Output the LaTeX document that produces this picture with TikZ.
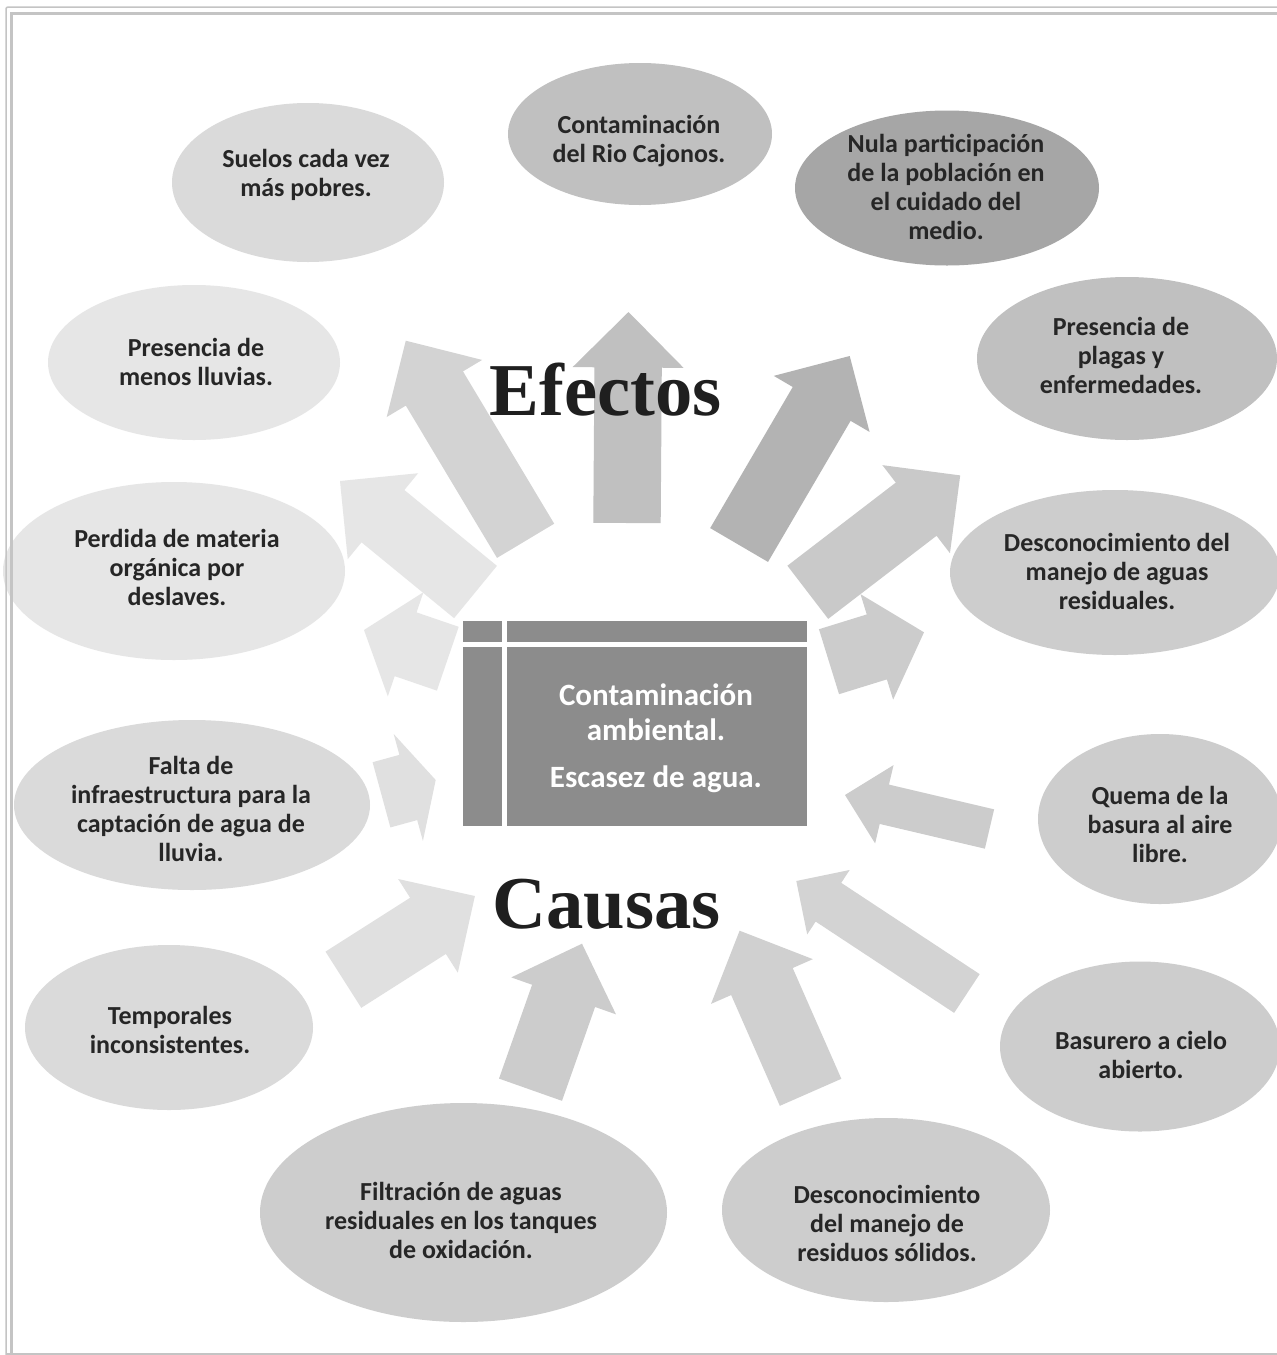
\documentclass[tikz,border=0pt]{standalone}
\usepackage{fontspec}
\setmainfont{Carlito}
\newfontfamily\titlefont{Liberation Serif}
\usetikzlibrary{calc,shapes.geometric}
\definecolor{txt}{HTML}{262626}
\definecolor{ttl}{HTML}{1F1F1F}
\definecolor{boxc}{HTML}{8C8C8C}
\definecolor{brd}{HTML}{C4C4C4}
\definecolor{gA}{HTML}{E6E6E6}
\definecolor{gB}{HTML}{DADADA}
\definecolor{gC}{HTML}{CDCDCD}
\definecolor{gD}{HTML}{C0C0C0}
\definecolor{gE}{HTML}{A6A6A6}
\definecolor{aD3}{HTML}{D3D3D3}
\definecolor{aB3}{HTML}{B3B3B3}
\definecolor{aC9}{HTML}{C9C9C9}
\definecolor{aCC}{HTML}{CCCCCC}
\definecolor{aE0}{HTML}{E0E0E0}
\definecolor{aD0}{HTML}{D0D0D0}
\newcommand\blkarrow[6]{%
  \coordinate (T) at (#2);
  \coordinate (P) at (#3);
  \coordinate (N) at ($(P)!#6pt!(T)$);
  \fill[#1] ($(T)!#4pt!90:(P)$) -- ($(N)!#4pt!90:(P)$) -- ($(N)!#5pt!90:(P)$) -- (P)
    -- ($(N)!#5pt!-90:(P)$) -- ($(N)!#4pt!-90:(P)$) -- ($(T)!#4pt!-90:(P)$) -- cycle;
}
\begin{document}
\begin{tikzpicture}[x=1pt,y=-1pt,
  ell/.style={ellipse, inner sep=0pt},
  lbl/.style={align=center, font=\fontsize{26}{29}\selectfont\bfseries, text=txt},
  cbox/.style={align=center, font=\fontsize{31}{35}\selectfont\bfseries, text=white},
  title/.style={font=\titlefont\bfseries\fontsize{74.6}{80}\selectfont, text=ttl, anchor=base}]
\useasboundingbox (0,0) rectangle (1277,1355);
\clip (0,0) rectangle (1277,1355);
\fill[white] (0,0) rectangle (1277,1355);

% ellipses
\node[ell, fill=gB, minimum width=272pt, minimum height=159pt] (suelos) at (308,182.5) {};
\node[ell, fill=gD, minimum width=264pt, minimum height=142pt] (rio) at (640,134) {};
\node[ell, fill=gE, minimum width=304pt, minimum height=155pt] (nula) at (947,188) {};
\node[ell, fill=gD, minimum width=300pt, minimum height=163pt] (plagas) at (1127,358.5) {};
\node[ell, fill=gC, minimum width=330pt, minimum height=165pt] (aguas) at (1115,572.5) {};
\node[ell, fill=gC, minimum width=244pt, minimum height=170pt] (quema) at (1160,819) {};
\node[ell, fill=gC, minimum width=280pt, minimum height=170pt] (basurero) at (1140,1046.5) {};
\node[ell, fill=gC, minimum width=328pt, minimum height=184pt] (residuos) at (886,1210) {};
\node[ell, fill=gC, minimum width=407pt, minimum height=219pt] (filtracion) at (463.5,1212.5) {};
\node[ell, fill=gB, minimum width=288pt, minimum height=165pt] (temporales) at (169,1027.5) {};
\node[ell, fill=gB, minimum width=356pt, minimum height=170pt] (falta) at (192,805) {};
\node[ell, fill=gA, minimum width=342pt, minimum height=178pt] (perdida) at (174,571) {};
\node[ell, fill=gA, minimum width=292pt, minimum height=155pt] (lluvias) at (194,362.5) {};

% effect arrows
\blkarrow{gD}{627,523}{628.5,312}{33.7}{55.5}{55.5}
\blkarrow{aD3}{525.6,540.8}{405.8,340.7}{33.3}{55.6}{55.7}
\blkarrow{aB3}{739.1,545}{849.7,356}{33.5}{55.5}{55.5}
\blkarrow{gA}{475.5,592}{340,481}{33.8}{55.5}{55.5}
\blkarrow{aC9}{807.8,592.3}{960.2,475.4}{33.5}{55.5}{55.5}
\blkarrow{gA}{447.8,658.7}{364,630}{33.7}{55}{44}
\blkarrow{aCC}{829,661.7}{924,632.3}{34}{55.2}{49.4}
% cause arrows
\blkarrow{aE0}{381.5,794.8}{435.7,780}{33.8}{55.4}{28.4}
\blkarrow{aCC}{989.5,829}{845,795}{20.2}{40.2}{40.4}
\blkarrow{aE0}{343.4,979.7}{474.9,896}{33.3}{55.5}{55.6}
\blkarrow{aCC}{530.5,1089.7}{582,943.7}{33.4}{55.5}{55.3}
\blkarrow{aD0}{810.6,1092.3}{739.6,930.7}{33.6}{55.6}{55.5}
\blkarrow{aD3}{966.9,993.5}{796.3,881}{23.2}{38.6}{38.5}

% central box
\fill[boxc] (463,621) rectangle (502,642);
\fill[boxc] (507,621) rectangle (807,642);
\fill[boxc] (463,647) rectangle (502,826);
\fill[boxc] (507,647) rectangle (807,826);
\node[cbox] (centre) at (656,712) {Contaminación\\ambiental.};
\node[cbox] (centre2) at (656,779) {Escasez de agua.};

% titles
\node[title] (efectos) at (605.5,415) {Efectos};
\node[title] (causas) at (606.4,928) {Causas};

% ellipse texts
\node[lbl] (suelosT) at (306,174.5) {Suelos cada vez\\más pobres.};
\node[lbl] (rioT) at (639,141) {Contaminación\\del Rio Cajonos.};
\node[lbl] (nulaT) at (946,187) {Nula participación\\de la población en\\el cuidado del\\medio.};
\node[lbl] (plagasT) at (1121,355) {Presencia de\\plagas y\\enfermedades.};
\node[lbl] (aguasT) at (1117,571) {Desconocimiento del\\manejo de aguas\\residuales.};
\node[lbl] (quemaT) at (1160,824) {Quema de la\\basura al aire\\libre.};
\node[lbl] (basureroT) at (1141,1054.5) {Basurero a cielo\\abierto.};
\node[lbl] (residuosT) at (887,1223) {Desconocimiento\\del manejo de\\residuos sólidos.};
\node[lbl] (filtracionT) at (461,1220) {Filtración de aguas\\residuales en los tanques\\de oxidación.};
\node[lbl] (temporalesT) at (170,1029.5) {Temporales\\inconsistentes.};
\node[lbl] (faltaT) at (191,809) {Falta de\\infraestructura para la\\captación de agua de\\lluvia.};
\node[lbl] (perdidaT) at (177,567.5) {Perdida de materia\\orgánica por\\deslaves.};
\node[lbl] (lluviasT) at (196,361.5) {Presencia de\\menos lluvias.};

% page border
\draw[brd, line width=1.5pt, rounded corners=2pt] (6,1355) -- (6,7) -- (1290,7);
\draw[brd, line width=3pt] (11.5,1353) -- (11.5,13.5) -- (1290,13.5);
\draw[brd, line width=1.5pt] (6,1354) -- (1290,1354);
\end{tikzpicture}
\end{document}
